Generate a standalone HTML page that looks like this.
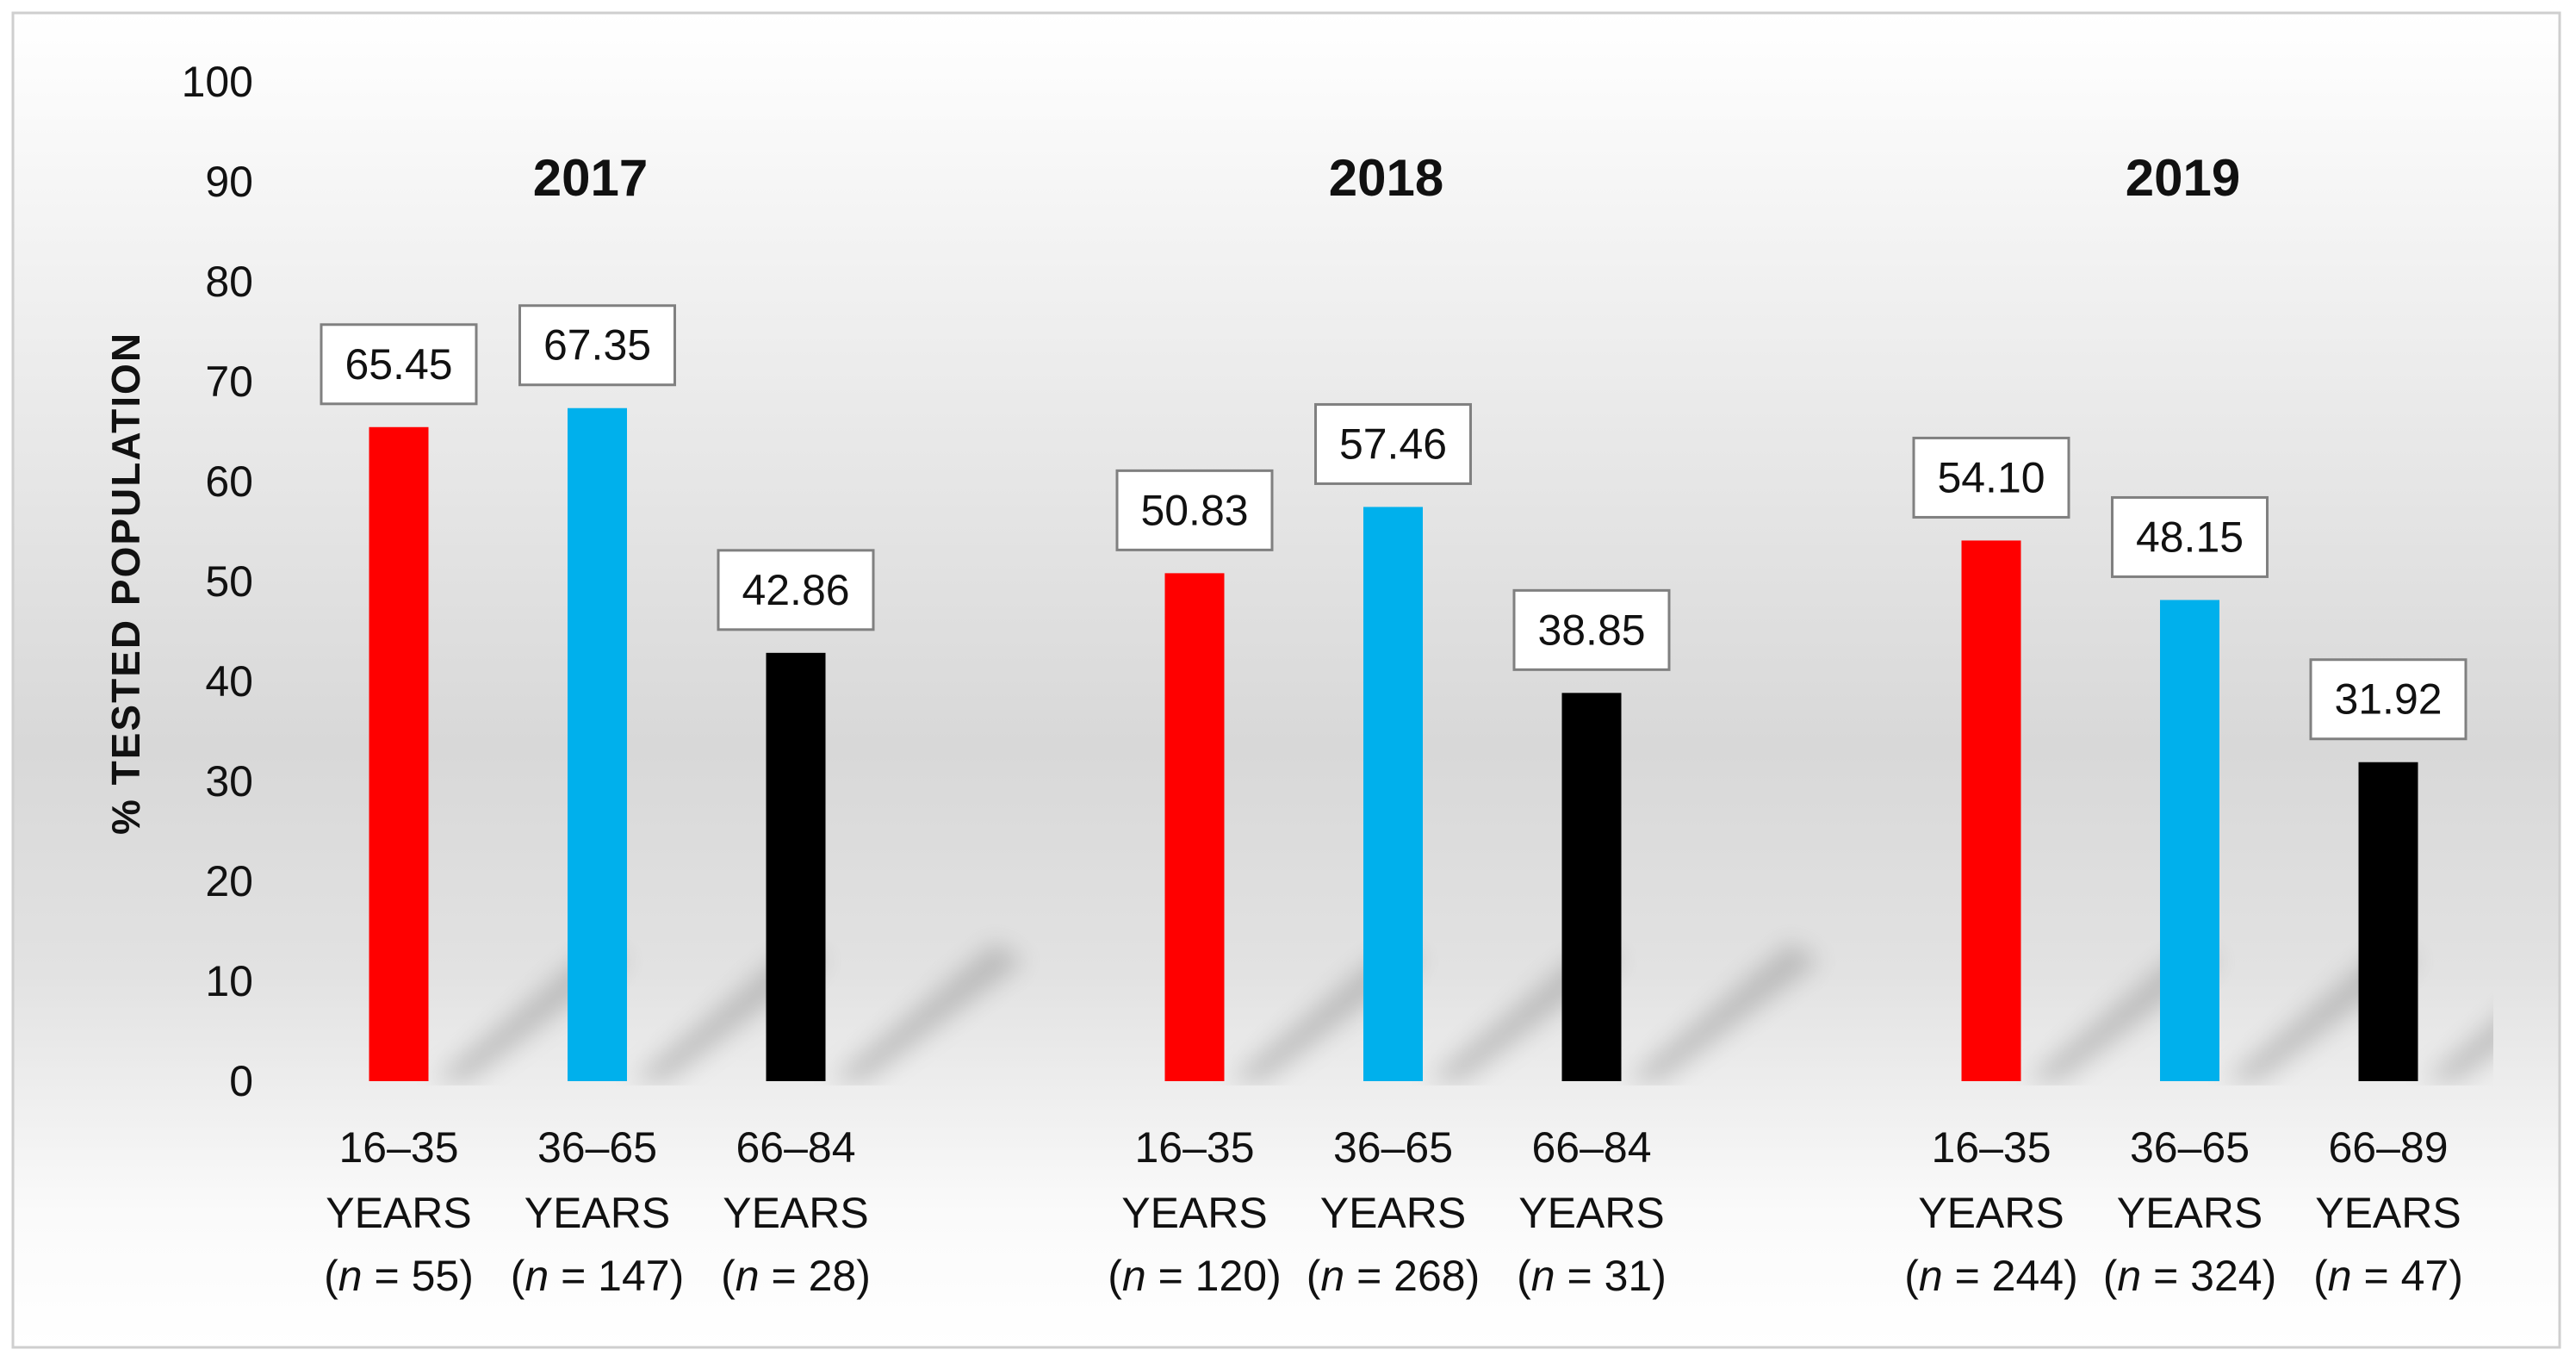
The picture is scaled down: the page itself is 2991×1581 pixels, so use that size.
<!DOCTYPE html>
<html><head><meta charset="utf-8">
<style>
html,body{margin:0;padding:0;background:#fff;}
svg{display:block;}
text{font-family:"Liberation Sans Narrow","Liberation Sans",sans-serif;fill:#111;}
</style></head>
<body>
<svg id="chart" width="2991" height="1581" viewBox="0 0 2991 1581" xmlns="http://www.w3.org/2000/svg">
<defs>
<linearGradient id="bg" x1="0" y1="0" x2="0" y2="1">
<stop offset="0" stop-color="#ffffff"/>
<stop offset="0.25" stop-color="#ededed"/>
<stop offset="0.55" stop-color="#d8d8d8"/>
<stop offset="0.72" stop-color="#e2e2e2"/>
<stop offset="0.9" stop-color="#fafafa"/>
<stop offset="1" stop-color="#ffffff"/>
</linearGradient>
<filter id="blur" x="-50%" y="-50%" width="200%" height="200%"><feGaussianBlur stdDeviation="14"/></filter>
<clipPath id="plotclip"><rect x="300" y="80" width="2595" height="1180"/></clipPath>
</defs>
<rect x="15" y="15" width="2957" height="1549" fill="url(#bg)" stroke="#cfcfcf" stroke-width="3"/>
<g id="shadows" clip-path="url(#plotclip)"></g>
<g id="axis"></g>
<g id="bars"></g>
<text transform="translate(162,677) rotate(-90)" text-anchor="middle" font-size="46" font-weight="bold" style="font-family:'Liberation Sans',sans-serif" letter-spacing="2">%  TESTED  POPULATION</text>
</svg>
<script>
const years = ["2017","2018","2019"];
const ageGroups = [["16–35","36–65","66–84"],["16–35","36–65","66–84"],["16–35","36–65","66–89"]];
const sampleSizes = [[55,147,28],[120,268,31],[244,324,47]];
const values = [[65.45,67.35,42.86],[50.83,57.46,38.85],[54.10,48.15,31.92]];
const yTicks = [0,10,20,30,40,50,60,70,80,90,100];
const colors = ["#ff0000","#00b0ec","#000000"];

const NS = "http://www.w3.org/2000/svg";
const y0 = 1255, y100 = 95;
function yScale(v){ return y0 - (y0 - y100) * v / 100; }
const groupStart = [463, 1387, 2312], barStep = 230.5, barW = 69;
function xCenter(g,i){ return groupStart[g] + i*barStep; }
function mk(tag, attrs, parent, txt){
  const e = document.createElementNS(NS, tag);
  for (const k in attrs) e.setAttribute(k, attrs[k]);
  if (txt !== undefined) e.textContent = txt;
  parent.appendChild(e); return e;
}
const axis = document.getElementById('axis');
yTicks.forEach(t=>{
  const el = mk('text',{x:294,y:yScale(t)+17,'text-anchor':'end','font-size':50},axis,String(t));
  
  
});
const bars = document.getElementById('bars');
const shadows = document.getElementById('shadows');
years.forEach((yr,g)=>{
  const title = mk('text',{x:xCenter(g,1)-8,y:227,'text-anchor':'middle','font-size':60,'font-weight':'bold'},bars,yr);
  
  
  values[g].forEach((v,i)=>{
    const cx = xCenter(g,i);
    const sh = mk('path',{d:`M${cx+40} ${y0} L${cx+230} ${y0-160} L${cx+265} ${y0-140} L${cx+80} ${y0} Z`,fill:'#8a8a8a',opacity:0.45,filter:'url(#blur)'},shadows);
    
    
    const top = yScale(v);
    const r = mk('rect',{x:cx-barW/2,y:top,width:barW,height:y0-top,fill:colors[i]},bars);
    
    
    const bw = 180, bh = 92, by = top - 27 - bh;
    const box = mk('rect',{x:cx-bw/2,y:by,width:bw,height:bh,fill:'#fff',stroke:'#808080','stroke-width':3},bars);
    
    
    const lt = mk('text',{x:cx,y:by+bh/2+17,'text-anchor':'middle','font-size':50},bars,v.toFixed(2));
    
    
    const l1 = mk('text',{x:cx,y:1349,'text-anchor':'middle','font-size':50},bars,ageGroups[g][i]);
    
    
    const l2 = mk('text',{x:cx,y:1425,'text-anchor':'middle','font-size':50},bars,'YEARS');
    
    
    const l3 = mk('text',{x:cx,y:1498,'text-anchor':'middle','font-size':50},bars);
    
    
    mk('tspan',{},l3,'(');
    mk('tspan',{'font-style':'italic'},l3,'n');
    mk('tspan',{},l3,' = '+sampleSizes[g][i]+')');
  });
});
</script>
</body></html>
